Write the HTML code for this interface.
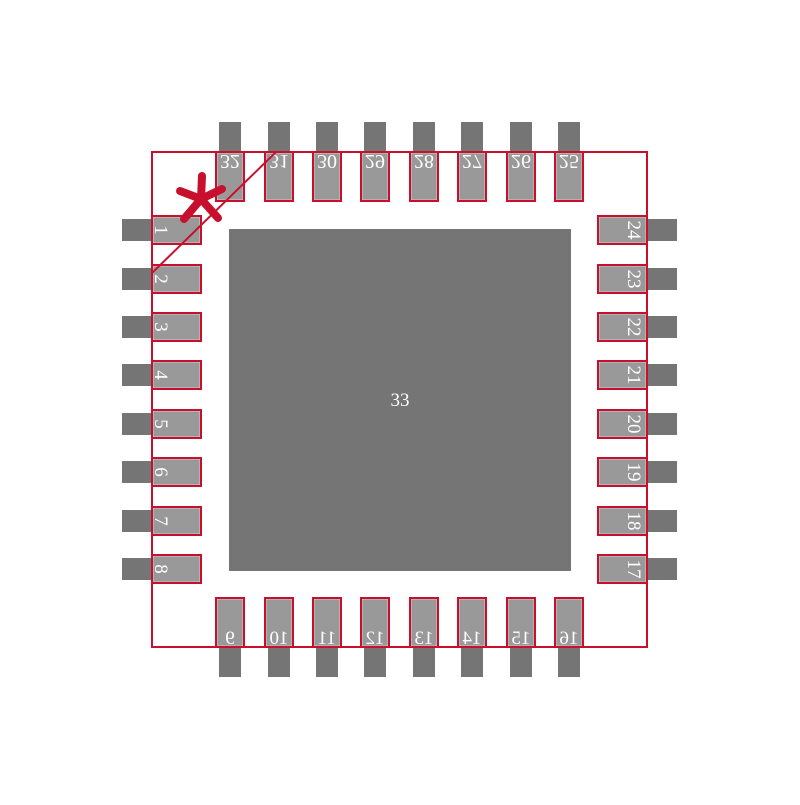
<!DOCTYPE html><html><head><style>body{margin:0;background:#fff}</style></head><body>
<svg width="800" height="800" xmlns="http://www.w3.org/2000/svg" xmlns:xlink="http://www.w3.org/1999/xlink" font-family="Liberation Serif, serif" font-size="19" fill="#fff">
<defs>
<g id="pl"><rect x="122" y="-11" width="30" height="22" fill="#757575"/><rect x="153" y="-13" width="47" height="26" fill="#999" stroke="#ccc"/><rect x="152" y="-14" width="49" height="28" fill="none" stroke="#c8102e" stroke-width="2"/></g>
<g id="pr"><rect x="647" y="-11" width="30" height="22" fill="#757575"/><rect x="599" y="-13" width="47" height="26" fill="#999" stroke="#ccc"/><rect x="598" y="-14" width="49" height="28" fill="none" stroke="#c8102e" stroke-width="2"/></g>
<g id="pt"><rect x="-11" y="122" width="22" height="30" fill="#757575"/><rect x="-13" y="153" width="26" height="47" fill="#999" stroke="#ccc"/><rect x="-14" y="152" width="28" height="49" fill="none" stroke="#c8102e" stroke-width="2"/></g>
<g id="pb"><rect x="-11" y="647" width="22" height="30" fill="#757575"/><rect x="-13" y="599" width="26" height="47" fill="#999" stroke="#ccc"/><rect x="-14" y="598" width="28" height="49" fill="none" stroke="#c8102e" stroke-width="2"/></g>
</defs>
<rect x="229" y="229" width="342" height="342" fill="#757575"/>
<use xlink:href="#pl" y="230"/><use xlink:href="#pl" y="279"/><use xlink:href="#pl" y="327"/><use xlink:href="#pl" y="375"/><use xlink:href="#pl" y="424"/><use xlink:href="#pl" y="472"/><use xlink:href="#pl" y="521"/><use xlink:href="#pl" y="569"/>
<use xlink:href="#pr" y="230"/><use xlink:href="#pr" y="279"/><use xlink:href="#pr" y="327"/><use xlink:href="#pr" y="375"/><use xlink:href="#pr" y="424"/><use xlink:href="#pr" y="472"/><use xlink:href="#pr" y="521"/><use xlink:href="#pr" y="569"/>
<use xlink:href="#pt" x="230"/><use xlink:href="#pt" x="279"/><use xlink:href="#pt" x="327"/><use xlink:href="#pt" x="375"/><use xlink:href="#pt" x="424"/><use xlink:href="#pt" x="472"/><use xlink:href="#pt" x="521"/><use xlink:href="#pt" x="569"/>
<use xlink:href="#pb" x="230"/><use xlink:href="#pb" x="279"/><use xlink:href="#pb" x="327"/><use xlink:href="#pb" x="375"/><use xlink:href="#pb" x="424"/><use xlink:href="#pb" x="472"/><use xlink:href="#pb" x="521"/><use xlink:href="#pb" x="569"/>
<g text-anchor="middle">
<text transform="translate(155,230) rotate(90)" y="0">1</text>
<text transform="translate(155,279) rotate(90)" y="0">2</text>
<text transform="translate(155,327) rotate(90)" y="0">3</text>
<text transform="translate(155,375) rotate(90)" y="0">4</text>
<text transform="translate(155,424) rotate(90)" y="0">5</text>
<text transform="translate(155,472) rotate(90)" y="0">6</text>
<text transform="translate(155,521) rotate(90)" y="0">7</text>
<text transform="translate(155,569) rotate(90)" y="0">8</text>
<text transform="translate(628,569) rotate(90)" y="0">17</text>
<text transform="translate(628,521) rotate(90)" y="0">18</text>
<text transform="translate(628,472) rotate(90)" y="0">19</text>
<text transform="translate(628,424) rotate(90)" y="0">20</text>
<text transform="translate(628,375) rotate(90)" y="0">21</text>
<text transform="translate(628,327) rotate(90)" y="0">22</text>
<text transform="translate(628,279) rotate(90)" y="0">23</text>
<text transform="translate(628,230) rotate(90)" y="0">24</text>
<g font-size="20">
<text transform="translate(230,155) scale(1,-1)" y="0">32</text>
<text transform="translate(279,155) scale(1,-1)" y="0">31</text>
<text transform="translate(327,155) scale(1,-1)" y="0">30</text>
<text transform="translate(375,155) scale(1,-1)" y="0">29</text>
<text transform="translate(424,155) scale(1,-1)" y="0">28</text>
<text transform="translate(472,155) scale(1,-1)" y="0">27</text>
<text transform="translate(521,155) scale(1,-1)" y="0">26</text>
<text transform="translate(569,155) scale(1,-1)" y="0">25</text>
</g>
<text transform="translate(230,644) scale(-1,1)">9</text>
<text transform="translate(279,644) scale(-1,1)">10</text>
<text transform="translate(327,644) scale(-1,1)">11</text>
<text transform="translate(375,644) scale(-1,1)">12</text>
<text transform="translate(424,644) scale(-1,1)">13</text>
<text transform="translate(472,644) scale(-1,1)">14</text>
<text transform="translate(521,644) scale(-1,1)">15</text>
<text transform="translate(569,644) scale(-1,1)">16</text>
<text x="400" y="406">33</text>
</g>
<rect x="152" y="152" width="495" height="495" fill="none" stroke="#c8102e" stroke-width="2"/>
<line x1="276" y1="152" x2="152" y2="273" stroke="#c8102e" stroke-width="2"/>
<g stroke="#c8102e" stroke-width="8" stroke-linecap="round">
<line x1="201" y1="199" x2="202" y2="176"/>
<line x1="201" y1="199" x2="180" y2="191"/>
<line x1="201" y1="199" x2="222" y2="189"/>
<line x1="201" y1="199" x2="184" y2="219"/>
<line x1="201" y1="199" x2="218" y2="218"/>
</g>
</svg>
</body></html>
